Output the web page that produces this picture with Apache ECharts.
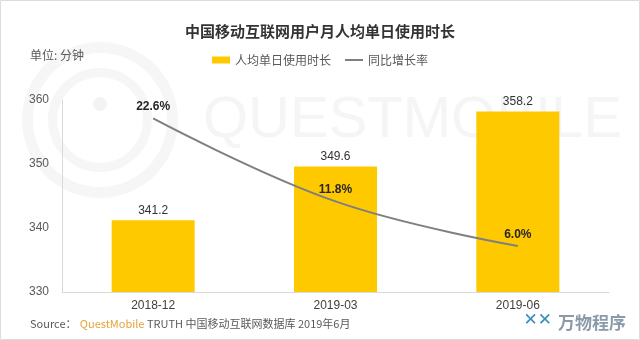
<!DOCTYPE html>
<html>
<head>
<meta charset="utf-8">
<script src="https://cdn.jsdelivr.net/npm/echarts@6/dist/echarts.min.js"></script>
<style>
html,body{margin:0;padding:0;background:#fff;}
#chart{width:640px;height:340px;}
</style>
</head>
<body>
<div id="chart"></div>
<script>
var categories = ['2018-12', '2019-03', '2019-06'];
var dailyMinutes = [341.2, 349.6, 358.2];
var yoyGrowth = [22.6, 11.8, 6.0];
var seriesNames = ['人均单日使用时长', '同比增长率'];
var titleText = '中国移动互联网用户月人均单日使用时长';
var unitText = '单位: 分钟';

var cjk = '"Noto Sans CJK SC", "Liberation Sans", sans-serif';
var chart = echarts.init(document.getElementById('chart'));
chart.setOption({
  backgroundColor: '#ffffff',
  animation: false,
  title: {
    text: titleText,
    left: 'center',
    top: 19,
    textStyle: { fontFamily: cjk, fontSize: 15, fontWeight: 'bold', color: '#333333' }
  },
  legend: {
    top: 49,
    left: 'center',
    itemGap: 14,
    itemWidth: 18,
    itemHeight: 7,
    textStyle: { fontFamily: cjk, fontSize: 12, color: '#595959' },
    data: [
      { name: seriesNames[0], icon: 'rect' },
      { name: seriesNames[1], icon: 'path://M0,0 L18,0 L18,2 L0,2 Z', itemStyle: { color: '#7F7F80', opacity: 1 } }
    ]
  },
  graphic: [
    { type: 'rect', shape: { x: 0.5, y: 0.5, width: 639, height: 339 }, style: { fill: 'none', stroke: '#dcdcdc', lineWidth: 1 }, silent: true, z: -10 },
    { type: 'text', left: 203, top: 92, z: -5, silent: true,
      style: { text: 'QUESTMOBILE', font: '300 58px "Liberation Sans", sans-serif', fill: '#f5f5f5' } },
    { type: 'ring', shape: { cx: 100, cy: 120, r: 78, r0: 67 }, style: { fill: '#f6f6f6' }, z: -5, silent: true },
    { type: 'ring', shape: { cx: 100, cy: 120, r: 52, r0: 43 }, style: { fill: '#f6f6f6' }, z: -5, silent: true },
    { type: 'circle', shape: { cx: 100, cy: 104, r: 7 }, style: { fill: '#f3f3f3' }, z: -5, silent: true },
    { type: 'text', left: 30, top: 49,
      style: { text: unitText, font: '12px ' + cjk, fill: '#595959' } },
    { type: 'text', left: 30, top: 318,
      style: { rich: {
        a: { fontFamily: cjk, fontSize: 11, fill: '#595959', color: '#595959' },
        b: { fontFamily: cjk, fontSize: 11, fill: '#E8A33B', color: '#E8A33B' }
      }, text: '{a|Source：} {b|QuestMobile}{a| TRUTH 中国移动互联网数据库 2019年6月}' } },
    { type: 'text', right: 14, top: 314,
      style: { text: '万物程序', font: 'bold 17px ' + cjk, fill: '#8a9aa8' } },
    { type: 'text', right: 88, top: 312,
      style: { text: '✕✕', font: 'bold 17px "DejaVu Sans", sans-serif', fill: '#3a8fc0' } }
  ],
  grid: { left: 62, right: 31, top: 100, bottom: 48 },
  xAxis: {
    type: 'category',
    data: categories,
    axisLine: { lineStyle: { color: '#d9d9d9' } },
    axisTick: { show: false },
    axisLabel: { fontFamily: '"Liberation Sans", sans-serif', fontSize: 12, color: '#404040', margin: 8 }
  },
  yAxis: [
    {
      type: 'value', min: 330, max: 360, interval: 10,
      axisLine: { show: true, lineStyle: { color: '#d9d9d9' } },
      axisTick: { show: false },
      splitLine: { show: false },
      axisLabel: { fontFamily: '"Liberation Sans", sans-serif', fontSize: 12, color: '#595959', margin: 13 }
    },
    {
      type: 'value', min: 0, max: 25, show: false, splitLine: { show: false }
    }
  ],
  series: [
    {
      name: seriesNames[0],
      type: 'bar',
      data: dailyMinutes,
      barWidth: 83,
      itemStyle: { color: '#FFC900' },
      label: { show: true, position: 'top', distance: 4, fontFamily: '"Liberation Sans", sans-serif', fontSize: 12, color: '#333333',
        formatter: function (p) { return p.value.toFixed(1); } }
    },
    {
      name: seriesNames[1],
      type: 'line',
      yAxisIndex: 1,
      data: yoyGrowth,
      smooth: 0.4,
      symbol: 'circle',
      symbolSize: 1,
      showSymbol: true,
      lineStyle: { color: '#7F7F80', width: 2 },
      itemStyle: { color: 'rgba(127,127,128,0)' },
      label: { show: true, position: 'top', distance: 5, fontFamily: '"Liberation Sans", sans-serif', fontSize: 12, fontWeight: 'bold', color: '#262626',
        formatter: function (p) { return p.value.toFixed(1) + '%'; } }
    }
  ]
});
</script>
</body>
</html>
